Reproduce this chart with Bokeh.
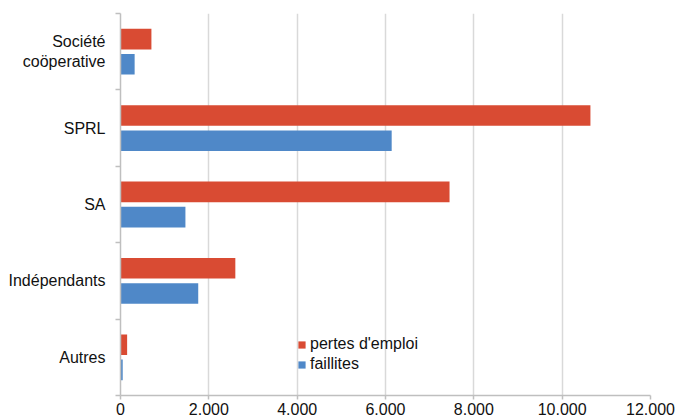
from bokeh.plotting import figure
from bokeh.models import FixedTicker, Range1d, Legend, LegendItem
from bokeh.embed import file_html
from bokeh.resources import INLINE

# ---- data (bottom to top) ----
categories = ["Autres", "Indépendants", "SA", "SPRL", "Société\ncoöperative"]
pertes_emploi = [150, 2600, 7450, 10640, 700]
faillites = [50, 1760, 1470, 6140, 320]
x_ticks = [0, 2000, 4000, 6000, 8000, 10000, 12000]
x_tick_labels = ["0", "2.000", "4.000", "6.000", "8.000", "10.000", "12.000"]

RED = "#D94B33"
BLUE = "#4F88C8"
FONT = "Liberation Sans"
TXT = "#111111"

centers = [i + 0.5 for i in range(len(categories))]
y_pertes = [c + 0.165 for c in centers]
y_faill = [c - 0.165 for c in centers]
bounds = list(range(len(categories) + 1))

p = figure(width=676, height=419,
           x_range=Range1d(0, 12000), y_range=Range1d(0, len(categories)),
           output_backend="svg", toolbar_location=None,
           min_border_left=120, min_border_right=26,
           min_border_top=13, min_border_bottom=24)
p.outline_line_color = None
p.background_fill_color = "white"
p.border_fill_color = "white"

r1 = p.hbar(y=y_pertes, left=0, right=pertes_emploi, height=0.27,
            fill_color=RED, line_color=None)
r2 = p.hbar(y=y_faill, left=0, right=faillites, height=0.27,
            fill_color=BLUE, line_color=None)

# x axis
xt = FixedTicker(ticks=x_ticks)
p.xaxis.ticker = xt
p.xaxis.major_label_overrides = {t: l for t, l in zip(x_ticks, x_tick_labels)}
p.xaxis.major_label_text_font = FONT
p.xaxis.major_label_text_font_size = "16px"
p.xaxis.major_label_text_color = TXT
p.xaxis.major_label_standoff = 3
p.xaxis.axis_line_color = "#BFBFBF"
p.xaxis.axis_line_width = 1.5
p.xaxis.major_tick_line_color = "#BFBFBF"
p.xaxis.major_tick_line_width = 1.5
p.xaxis.major_tick_out = 4
p.xaxis.major_tick_in = 0
p.xaxis.minor_tick_line_color = None

p.xgrid.ticker = xt
p.xgrid.grid_line_color = "#D9D9D9"
p.xgrid.grid_line_width = 1.5
p.ygrid.grid_line_color = None

# y axis
yt = FixedTicker(ticks=centers, minor_ticks=bounds)
p.yaxis.ticker = yt
p.yaxis.major_label_overrides = {c: name for c, name in zip(centers, categories)}
p.yaxis.major_label_text_font = FONT
p.yaxis.major_label_text_font_size = "16px"
p.yaxis.major_label_text_color = TXT
p.yaxis.major_label_standoff = 10
p.yaxis.axis_line_color = "#BFBFBF"
p.yaxis.axis_line_width = 1.5
p.yaxis.major_tick_line_color = None
p.yaxis.major_tick_out = 0
p.yaxis.major_tick_in = 0
p.yaxis.minor_tick_line_color = "#BFBFBF"
p.yaxis.minor_tick_line_width = 1.5
p.yaxis.minor_tick_out = 5
p.yaxis.minor_tick_in = 0

legend = Legend(items=[LegendItem(label="pertes d'emploi", renderers=[r1]),
                       LegendItem(label="faillites", renderers=[r2])],
                location=(177, 21), margin=0, padding=0, spacing=0,
                glyph_width=9, glyph_height=9, label_standoff=4,
                label_height=20, label_text_font=FONT,
                label_text_font_size="16px", label_text_color=TXT,
                background_fill_alpha=0, border_line_color=None)
p.add_layout(legend)

open("out.html", "w").write(file_html(p, INLINE))
